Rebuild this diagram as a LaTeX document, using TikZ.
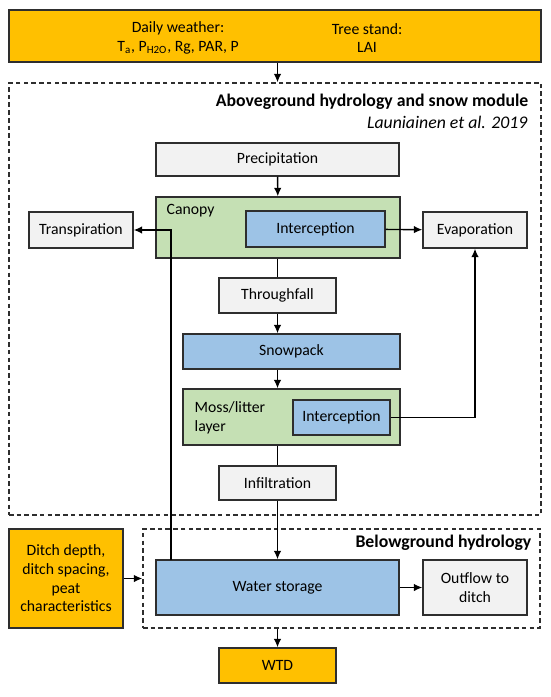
\documentclass[tikz,border=0pt]{standalone}
\usepackage{fontspec}
\setmainfont{Carlito}
\usetikzlibrary{arrows.meta}
\definecolor{inputorange}{HTML}{FFC000}
\definecolor{boxgrey}{HTML}{F2F2F2}
\definecolor{layergreen}{HTML}{C5E0B4}
\definecolor{storeblue}{HTML}{9DC3E6}
\definecolor{edgegrey}{HTML}{2E2E2E}

\begin{document}
\begin{tikzpicture}[x=0.2mm, y=-0.2mm, line width=0.8pt,
    font=\fontsize{8.95}{10.6}\selectfont,
    >={Latex[length=4.8pt,width=4.3pt]},
    box/.style={draw=edgegrey, rectangle, inner sep=0pt, align=center},
    module/.style={draw=edgegrey, rectangle, inner sep=0pt, dash pattern=on 2.6pt off 1.8pt},
    heading/.style={anchor=east, inner sep=0pt, font=\fontsize{10.1}{12}\selectfont}]
\useasboundingbox (0,0) rectangle (550,697);

\node[module, minimum width=106.4mm, minimum height=86.4mm] (AB) at (275,299) {};
\node[module, minimum width=79.4mm, minimum height=19.8mm] (BG) at (341.5,578.5) {};
\node[heading, font=\fontsize{10.1}{12}\selectfont\bfseries] (ABT) at (529,102) {Aboveground hydrology and snow module};
\node[heading, font=\fontsize{10.1}{12}\selectfont\itshape] (ABR) at (528,122) {Launiainen et al. 2019};
\node[heading, font=\fontsize{10.1}{12}\selectfont\bfseries] (BGT) at (532,543) {Belowground hydrology};

\node[box, fill=inputorange, minimum width=106.4mm, minimum height=10.4mm] (W) at (275,36) {};
\node[align=center, inner sep=0pt] (DW) at (178,38) {Daily weather:\\T\textsubscript{a}, P\textsubscript{H2O}, Rg, PAR, P};
\node[align=center, inner sep=0pt] (TS) at (367,38) {Tree stand:\\LAI};

\node[box, fill=boxgrey, minimum width=48.6mm, minimum height=6.6mm] (P) at (277.5,159.5) {Precipitation};
\node[box, fill=layergreen, minimum width=48.8mm, minimum height=12.2mm] (C) at (278,227.5) {};
\node[anchor=west, inner sep=0pt] (CL) at (166,211) {Canopy};
\node[box, fill=storeblue, minimum width=27.8mm, minimum height=7.2mm] (I1) at (315.5,229) {Interception};
\node[box, fill=boxgrey, minimum width=20.8mm, minimum height=7.2mm] (T) at (81,230) {Transpiration};
\node[box, fill=boxgrey, minimum width=20.8mm, minimum height=7.2mm] (E) at (475,230) {Evaporation};
\node[box, fill=boxgrey, minimum width=23.4mm, minimum height=7mm] (TF) at (277.5,295.5) {Throughfall};
\node[box, fill=storeblue, minimum width=43.4mm, minimum height=7mm] (S) at (291.5,351.5) {Snowpack};
\node[box, fill=layergreen, minimum width=43.4mm, minimum height=11.2mm] (M) at (291.5,417) {};
\node[anchor=west, align=left, inner sep=0pt] (ML) at (194,418) {Moss/litter\\layer};
\node[box, fill=storeblue, minimum width=19.4mm, minimum height=7mm] (I2) at (341.5,417.5) {Interception};
\node[box, fill=boxgrey, minimum width=23.4mm, minimum height=6.8mm] (IF) at (277.5,483) {Infiltration};

\node[box, fill=inputorange, minimum width=22.8mm, minimum height=19.8mm] (D) at (66,578.5) {Ditch depth,\\ditch spacing,\\peat\\characteristics};
\node[box, fill=storeblue, minimum width=48.6mm, minimum height=11mm] (WS) at (277.5,587.5) {Water storage};
\node[box, fill=boxgrey, minimum width=20.8mm, minimum height=11mm] (O) at (475,587.5) {Outflow to\\ditch};
\node[box, fill=inputorange, minimum width=23.4mm, minimum height=7mm] (WTD) at (277.5,665.5) {WTD};
\coordinate (WT) at (171,560);

\draw[->] (W.south -| P) -- (AB.north -| P);
\draw[->] (P) -- (C);
\draw (C.south -| TF) -- (TF);
\draw[->] (TF) -- (TF |- S.north);
\draw[->] (S.south -| TF) -- (M.north -| TF);
\draw (M.south -| IF) -- (IF);
\draw[->] (IF) -- (WS);
\draw[->] (I1) -- (E);
\draw[->] (I2.east) -| (E.south);
\draw[->] (WT) |- (T.east);
\draw[->] (D) -- (BG.west |- D);
\draw[->] (WS.east |- O) -- (O);
\draw[->] (BG.south -| WTD) -- (WTD);
\end{tikzpicture}
\end{document}
